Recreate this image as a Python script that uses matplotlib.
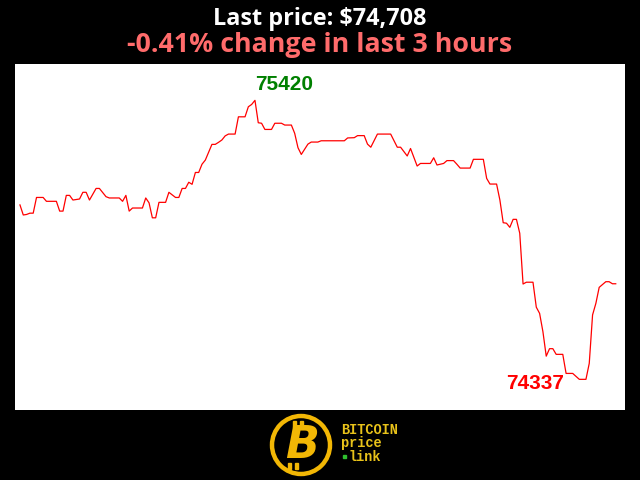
import matplotlib.pyplot as plt
from matplotlib.patches import Circle, Rectangle

# minutes since start of the 3 hour window, and BTC price (USD)
minutes = [0, 1, 2, 3, 4, 5, 7, 8, 11, 12, 13, 14, 15, 16, 18, 19, 20, 21, 23, 24,
           26, 27, 30, 31, 32, 33, 34, 37, 38, 39, 40, 41, 42, 44, 45, 47, 48, 49, 50, 51,
           52, 53, 54, 55, 56, 58, 59, 60, 61, 62, 63, 65, 66, 68, 69, 70, 71, 72, 73, 74,
           76, 77, 79, 80, 82, 83, 84, 85, 87, 88, 90, 91, 98, 99, 101, 102, 104, 105, 106, 108,
           112, 114, 115, 117, 118, 120, 121, 124, 125, 126, 128, 129, 131, 132, 133, 136, 137, 140, 141, 142,
           144, 145, 146, 147, 148, 149, 150, 151, 152, 153, 155, 156, 157, 158, 159, 160, 161, 162, 164, 165,
           167, 169, 171, 172, 173, 174, 175, 177, 178, 179, 180]
prices = [75014, 74975, 74977, 74982, 74982, 75043, 75043, 75028, 75028, 74990, 74990, 75051, 75051, 75033, 75037, 75063, 75063, 75033, 75078, 75078,
          75046, 75041, 75041, 75028, 75051, 74990, 75002, 75002, 75041, 75022, 74964, 74964, 75024, 75024, 75063, 75043, 75043, 75078, 75078, 75102,
          75094, 75140, 75140, 75172, 75188, 75249, 75249, 75257, 75266, 75282, 75289, 75289, 75356, 75356, 75395, 75404, 75420, 75333, 75331, 75307,
          75307, 75331, 75331, 75324, 75324, 75292, 75236, 75210, 75250, 75258, 75258, 75263, 75263, 75274, 75275, 75283, 75283, 75250, 75238, 75289,
          75289, 75238, 75238, 75204, 75233, 75165, 75175, 75175, 75197, 75169, 75175, 75186, 75186, 75172, 75157, 75157, 75191, 75191, 75117, 75095,
          75095, 75033, 74945, 74943, 74927, 74958, 74958, 74904, 74707, 74714, 74714, 74617, 74593, 74522, 74427, 74456, 74456, 74434, 74434, 74360,
          74360, 74337, 74337, 74399, 74587, 74632, 74694, 74716, 74716, 74708, 74708]

last_price = prices[-1]
pct_change = -0.41

fig = plt.figure(figsize=(6.4, 4.8), dpi=100, facecolor="black")
ax = fig.add_axes([15 / 640, 70 / 480, 610 / 640, 346 / 480])
ax.set_facecolor("white")
ax.plot(minutes, prices, color="red", lw=0.9)
ax.set_xlim(-1.5, 182.8)
ax.set_ylim(74218, 75561)
ax.set_xticks([])
ax.set_yticks([])
for s in ax.spines.values():
    s.set_visible(False)

# max / min labels
imax = prices.index(max(prices))
imin = prices.index(min(prices))
ax.annotate(str(max(prices)), (minutes[imax], prices[imax]), xytext=(29, 16),
            textcoords="offset pixels", ha="center", va="center",
            color="green", fontsize=15, fontweight="bold", family="Liberation Sans")
ax.annotate(str(min(prices)), (minutes[imin], prices[imin]), xytext=(-44, -4),
            textcoords="offset pixels", ha="center", va="center",
            color="red", fontsize=15, fontweight="bold", family="Liberation Sans")

# titles
fig.text(0.5, 1 - 25 / 480, f"Last price: ${last_price:,}", color="white",
         fontsize=16.8, fontweight="bold", family="Open Sans", ha="center", va="baseline")
fig.text(0.5, 1 - 52 / 480, f"{pct_change:.2f}% change in last 3 hours", color="#ff6b6b",
         fontsize=19.3, fontweight="bold", family="Open Sans", ha="center", va="baseline")

# logo
lax = fig.add_axes([0, 0, 1, 1], facecolor="none")
lax.set_xlim(0, 640)
lax.set_ylim(480, 0)
lax.axis("off")
gold = "#f2b705"
lax.add_patch(Circle((301, 445), 29, fill=False, ec=gold, lw=3.2))
lax.add_patch(Rectangle((293, 421), 3, 6, color=gold))
lax.add_patch(Rectangle((300, 421), 3, 6, color=gold))
lax.add_patch(Rectangle((288, 463), 3, 6, color=gold))
lax.add_patch(Rectangle((295, 463), 3, 6, color=gold))
lax.text(302, 446, "B", color=gold, fontsize=32, fontweight="bold", style="italic",
         family="DejaVu Sans", ha="center", va="center")
ltxt = "#e8c21a"
lax.text(341, 434, "BITCOIN", color=ltxt, fontsize=9.8, fontweight="bold",
         family="Liberation Mono", ha="left", va="baseline")
lax.text(341, 447, "price", color=ltxt, fontsize=9.8, fontweight="bold",
         family="Liberation Mono", ha="left", va="baseline")
lax.text(349, 461, "link", color=ltxt, fontsize=9.8, fontweight="bold",
         family="Liberation Mono", ha="left", va="baseline")
lax.add_patch(Rectangle((343, 455), 3, 3, color="#2fbf2f"))

fig.savefig("out.png", dpi=100, facecolor="black")
